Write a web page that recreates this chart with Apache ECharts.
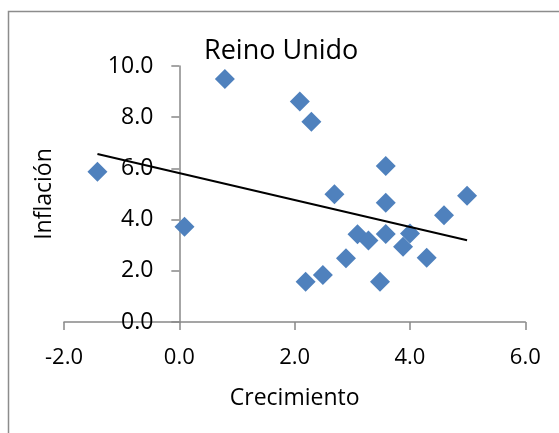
<!DOCTYPE html>
<html>
<head>
<meta charset="utf-8">
<script src="https://cdn.jsdelivr.net/npm/echarts@6/dist/echarts.min.js"></script>
<style>html,body{margin:0;padding:0;background:#fff;}#c{width:559px;height:433px;}</style>
</head>
<body>
<div id="c"></div>
<script>
var growth    = [-1.42, 0.09, 0.79, 2.09, 2.29, 3.58, 2.69, 3.58, 4.99, 4.59, 3.09, 3.28, 3.58, 4.00, 3.88, 4.29, 2.89, 2.49, 2.19, 3.48];
var inflation = [ 5.87, 3.72, 9.49, 8.61, 7.82, 6.09, 4.99, 4.66, 4.93, 4.17, 3.43, 3.18, 3.44, 3.46, 2.94, 2.51, 2.49, 1.84, 1.57, 1.57];
var trendX = [-1.42, 4.99];
var trendY = [6.56, 3.19];
var xTicks = [-2, 0, 2, 4, 6];
var yTicks = [0, 2, 4, 6, 8, 10];
var titleText = 'Reino Unido';
var xName = 'Crecimiento';
var yName = 'Inflación';

var font = '"Open Sans", sans-serif';
var pts = growth.map(function (g, i) { return [g, inflation[i]]; });
var trend = trendX.map(function (x, i) { return [x, trendY[i]]; });

var gridLeft = 64, gridRight = 525.3;
// y axis crosses the x axis at x = 0
var yAxisOffset = -(gridRight - gridLeft) * (0 - xTicks[0]) / (xTicks[xTicks.length - 1] - xTicks[0]);

var chart = echarts.init(document.getElementById('c'), null, {renderer: 'canvas'});
chart.setOption({
  animation: false,
  backgroundColor: '#fff',
  title: {
    text: titleText, left: 204, top: 38, padding: 0,
    textStyle: {fontFamily: font, fontSize: 27, fontWeight: 'normal', color: '#000'}
  },
  graphic: [{
    type: 'rect', shape: {x: 8.5, y: 11.5, width: 700, height: 600},
    style: {fill: 'none', stroke: '#8c8c8c', lineWidth: 1.5}, silent: true, z: -1
  }],
  grid: {left: gridLeft, right: 559 - gridRight, top: 66, bottom: 433 - 322, containLabel: false, outerBoundsMode: 'none'},
  xAxis: {
    type: 'value', min: xTicks[0], max: xTicks[xTicks.length - 1], interval: 2,
    name: xName, nameLocation: 'middle', nameGap: 65,
    nameTextStyle: {fontFamily: font, fontSize: 23, color: '#000'},
    axisLine: {onZero: false, lineStyle: {color: '#888', width: 1.5}},
    axisTick: {show: true, inside: false, length: 8, lineStyle: {color: '#888', width: 1.5}},
    axisLabel: {fontFamily: font, fontSize: 22, color: '#000', margin: 25,
      formatter: function (v) { return v.toFixed(1); }},
    splitLine: {show: false}
  },
  yAxis: {
    type: 'value', min: yTicks[0], max: yTicks[yTicks.length - 1], interval: 2,
    offset: yAxisOffset,
    name: yName, nameLocation: 'middle', nameGap: 123, nameRotate: 90,
    nameTextStyle: {fontFamily: font, fontSize: 23, color: '#000'},
    axisLine: {show: true, onZero: false, lineStyle: {color: '#888', width: 1.5}},
    axisTick: {show: true, inside: false, length: 8, lineStyle: {color: '#888', width: 1.5}},
    axisLabel: {fontFamily: font, fontSize: 23, color: '#000', margin: 26,
      formatter: function (v) { return v.toFixed(1); }},
    splitLine: {show: false}
  },
  series: [{
    type: 'scatter', data: pts, symbol: 'diamond', symbolSize: 20,
    itemStyle: {color: '#4F81BD', opacity: 1}, z: 3
  }, {
    type: 'line', data: trend, symbol: 'none', showSymbol: false,
    lineStyle: {color: '#000', width: 2}, z: 4
  }]
});
</script>
</body>
</html>
